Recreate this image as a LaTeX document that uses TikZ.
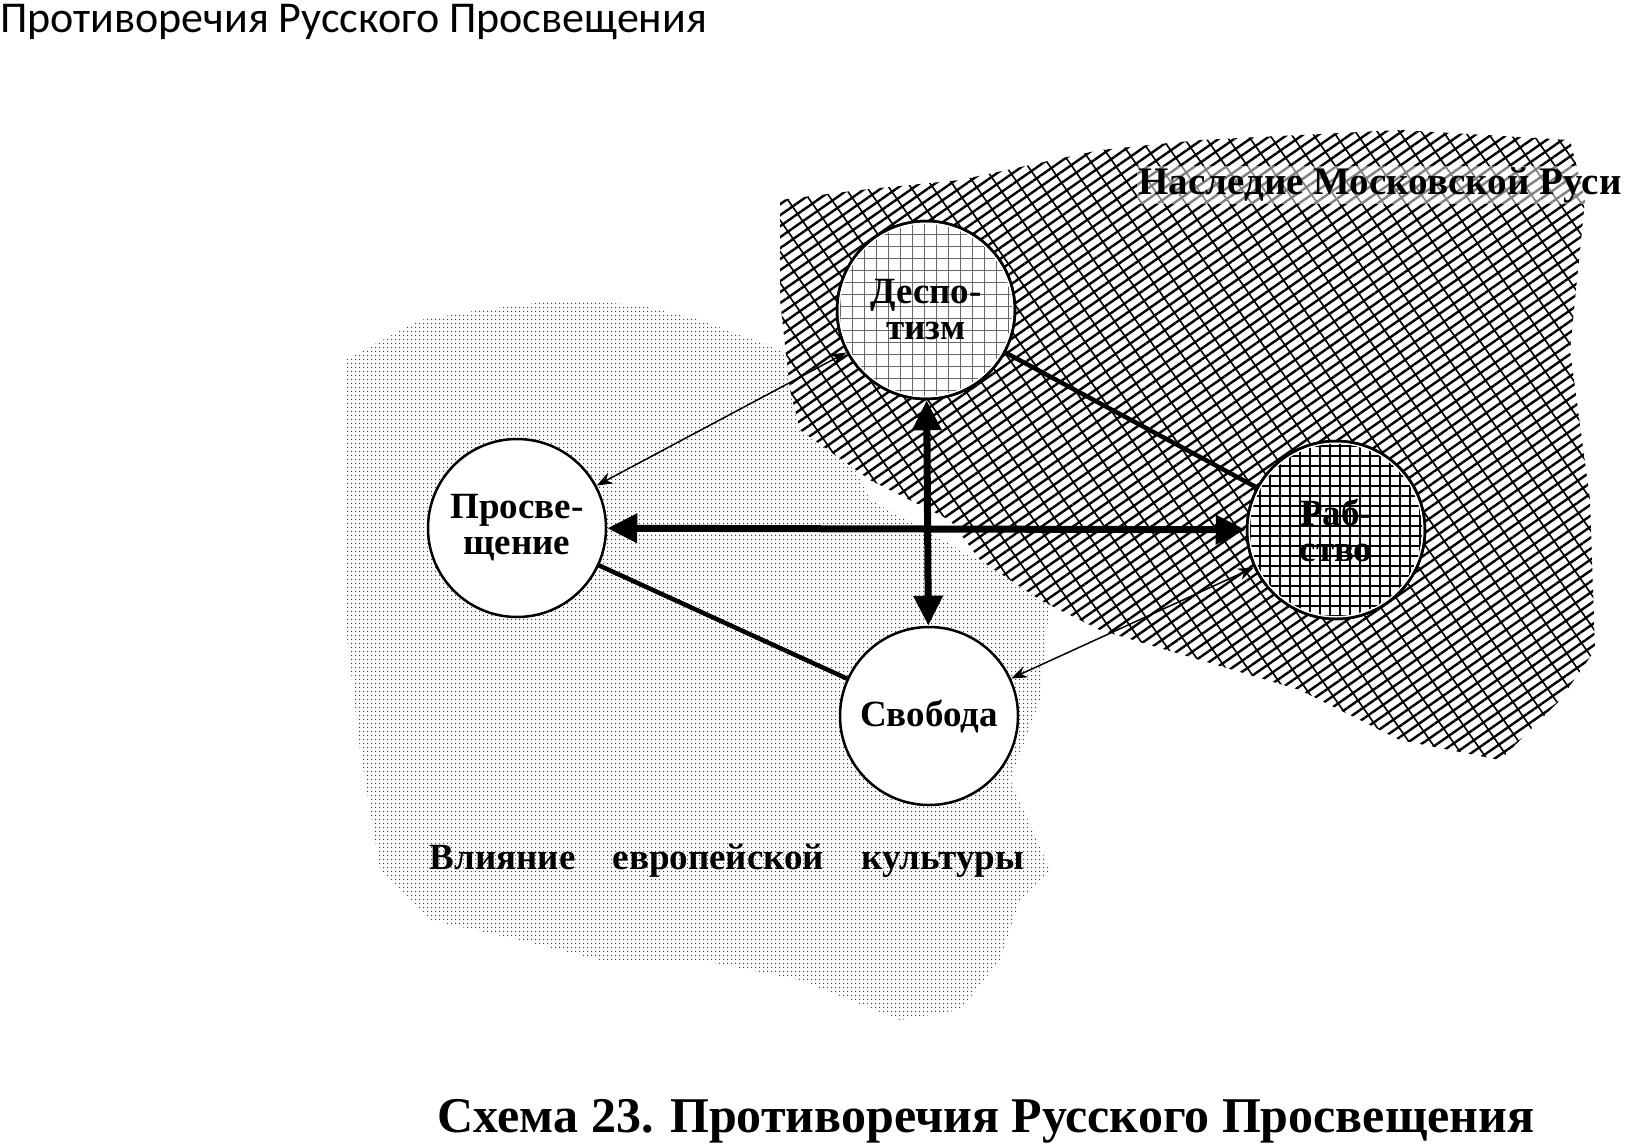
\documentclass[tikz,border=0pt]{standalone}
\usepackage{fontspec}
\setmainfont{Liberation Serif}
\newfontfamily\titlefont{Carlito}
\usetikzlibrary{patterns.meta,arrows.meta}
\begin{document}
\begin{tikzpicture}[x=1pt,y=-1pt,
  circ/.style={circle,draw,line width=2.5pt,minimum size=178pt,inner sep=0pt,font=\fontsize{37}{36}\selectfont\bfseries,align=center},
  thinarr/.style={line width=1.5pt,{Stealth[length=16pt,width=12pt]}-{Stealth[length=16pt,width=12pt]}},
  heavy/.style={line width=7pt,{Triangle[length=30pt,width=28pt]}-{Triangle[length=30pt,width=28pt]}},
  plain/.style={line width=4.5pt}]
\useasboundingbox (0,0) rectangle (1630,1146);
% dotted region
\fill[pattern={Dots[distance=4pt,radius=0.9pt]},pattern color=black!75]
 (345,360)--(420,320)--(480,310)--(560,300)--(640,305)--(700,320)--(780,350)--(830,420)--(870,500)--(960,550)--(1050,600)--(1040,700)--(1010,780)--(1050,870)--(1020,900)--(1000,960)--(960,1010)--(900,1020)--(800,980)--(700,960)--(600,960)--(520,940)--(430,920)--(380,870)--(360,750)--(345,620)--(345,480)--cycle;
% hatched region
\fill[white] (780,200)--(860,190)--(960,180)--(1100,150)--(1200,140)--(1400,130)--(1570,140)--(1585,200)--(1570,350)--(1590,500)--(1595,650)--(1560,700)--(1500,760)--(1400,740)--(1300,690)--(1200,660)--(1100,630)--(1040,600)--(980,560)--(950,520)--(870,480)--(800,430)--(790,390)--(780,300)--cycle;
\fill[pattern={Lines[angle=35,distance=9pt,line width=2.4pt]}]
 (780,200)--(860,190)--(960,180)--(1100,150)--(1200,140)--(1400,130)--(1570,140)--(1585,200)--(1570,350)--(1590,500)--(1595,650)--(1560,700)--(1500,760)--(1400,740)--(1300,690)--(1200,660)--(1100,630)--(1040,600)--(980,560)--(950,520)--(870,480)--(800,430)--(790,390)--(780,300)--cycle;
\fill[pattern={Lines[angle=-55,distance=18pt,line width=1.6pt]}]
 (780,200)--(860,190)--(960,180)--(1100,150)--(1200,140)--(1400,130)--(1570,140)--(1585,200)--(1570,350)--(1590,500)--(1595,650)--(1560,700)--(1500,760)--(1400,740)--(1300,690)--(1200,660)--(1100,630)--(1040,600)--(980,560)--(950,520)--(870,480)--(800,430)--(790,390)--(780,300)--cycle;
% circles
\node[circ,fill=white] (d) at (926,310) {};
\fill[pattern={Lines[angle=0,distance=12pt,line width=0.6pt]},pattern color=black!60] (926,310) circle (86);
\fill[pattern={Lines[angle=90,distance=12pt,line width=0.6pt]},pattern color=black!60] (926,310) circle (86);
\node[circ] (dd) at (926,310) {Деспо-\\тизм};
\node[circ,fill=white] (r) at (1336,530) {};
\fill[pattern={Lines[angle=0,distance=10pt,line width=2pt]}] (1336,530) circle (86);
\fill[pattern={Lines[angle=90,distance=10pt,line width=2pt]}] (1336,530) circle (86);
\node[circ] (rr) at (1336,530) {Раб-\\ство};
\node[circ,fill=white] (p) at (517,528) {Просве-\\щение};
\node[circ,fill=white] (s) at (929,716) {Свобода};
% connectors
\draw[plain] (dd) -- (rr);
\draw[plain] (p) -- (s);
\draw[thinarr] (dd) -- (p);
\draw[thinarr] (s) -- (rr);
\draw[heavy] (p) -- (rr);
\draw[heavy] (dd) -- (s);
% labels
\node[font=\fontsize{39}{40}\selectfont\bfseries,fill=white,fill opacity=0.5,text opacity=1,inner sep=1pt] (ln) at (1380,185) {Наследие Московской Руси};
\node[font=\fontsize{37}{38}\selectfont\bfseries] (le) at (727,861) {Влияние\quad европейской\quad культуры};
\node[font=\fontsize{50}{52}\selectfont\bfseries] (cap) at (986,1121) {Схема 23. Противоречия Русского Просвещения};
\node[font=\titlefont\fontsize{44}{46}\selectfont,anchor=west,inner sep=0pt] (t) at (0,22) {Противоречия Русского Просвещения};
\end{tikzpicture}
\end{document}
